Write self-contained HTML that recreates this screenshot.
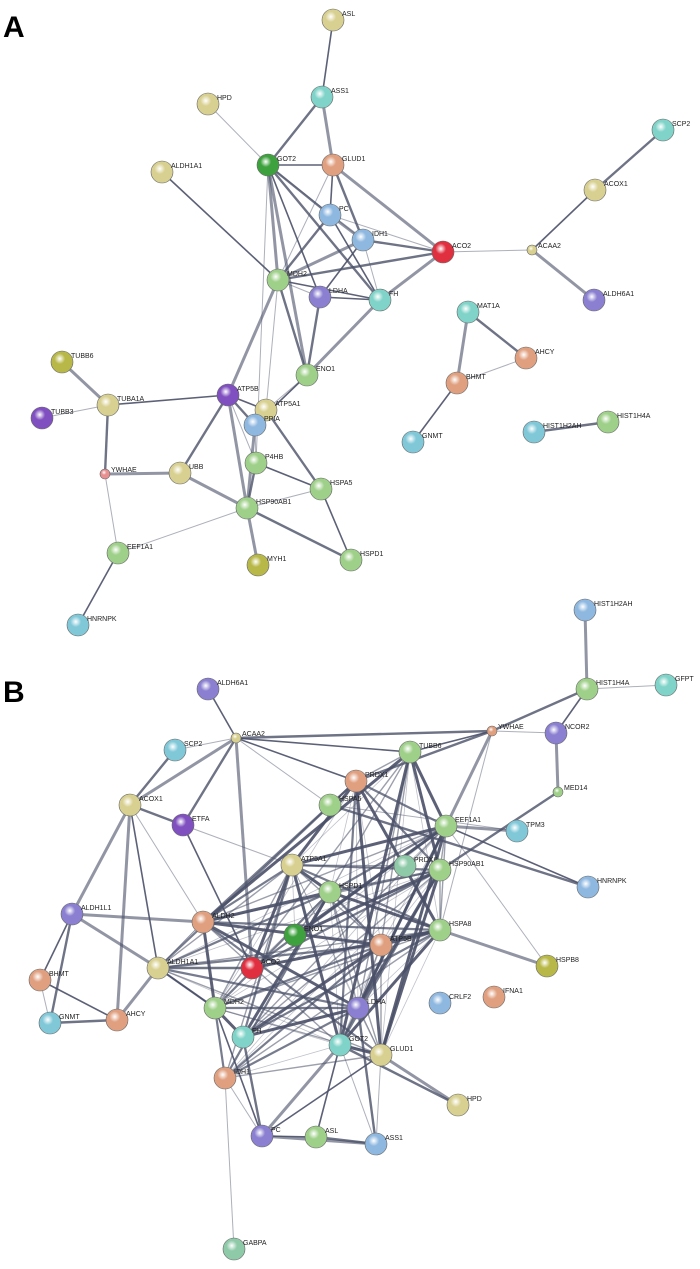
<!DOCTYPE html>
<html><head><meta charset="utf-8">
<style>
html,body{margin:0;padding:0;background:#fff;}
svg{display:block;}
text{font-family:"Liberation Sans",Arial,sans-serif;}
.l{font-size:7px;fill:#222;}
.big{font-size:30px;font-weight:bold;fill:#000;}
</style></head>
<body>
<svg id="s" width="700" height="1269" viewBox="0 0 700 1269" xmlns="http://www.w3.org/2000/svg">
<defs></defs>
<text class="big" x="3" y="37">A</text>
<text class="big" x="3" y="702">B</text>
<g id="edges"></g><g id="nodes"></g>
</svg>
<script>
var C={g:"#9fd08a",dg:"#3da13d",t:"#7fd3c8",b:"#8fb8e0",p:"#8a7fd0",r:"#e03040",o:"#e0a080",y:"#d8d090",k:"#b8b848",s:"#8ec9a8",pu:"#8050c0",cy:"#80c8d8"};
var A={ASL:[333,20,"y"],ASS1:[322,97,"t"],HPD:[208,104,"y"],GOT2:[268,165,"dg"],GLUD1:[333,165,"o"],ALDH1A1:[162,172,"y"],PC:[330,215,"b"],IDH1:[363,240,"b"],ACO2:[443,252,"r"],SCP2:[663,130,"t"],ACOX1:[595,190,"y"],ACAA2:[532,250,"ys"],ALDH6A1:[594,300,"p"],MDH2:[278,280,"g"],LDHA:[320,297,"p"],FH:[380,300,"t"],MAT1A:[468,312,"t"],AHCY:[526,358,"o"],BHMT:[457,383,"o"],GNMT:[413,442,"cy"],HIST1H2AH:[534,432,"cy"],HIST1H4A:[608,422,"g"],ENO1:[307,375,"g"],TUBB6:[62,362,"k"],TUBA1A:[108,405,"y"],TUBB3:[42,418,"pu"],ATP5B:[228,395,"pu"],ATP5A1:[266,410,"y"],PPIA:[255,425,"b"],YWHAE:[105,474,"rs"],UBB:[180,473,"y"],P4HB:[256,463,"g"],HSPA5:[321,489,"g"],HSP90AB1:[247,508,"g"],EEF1A1:[118,553,"g"],MYH1:[258,565,"k"],HSPD1:[351,560,"g"],HNRNPK:[78,625,"cy"]};
var Ae="ASL-ASS1 ASS1-GOT2 ASS1-GLUD1 HPD-GOT2 GOT2-GLUD1 GOT2-PC GOT2-MDH2 GOT2-IDH1 GOT2-LDHA GOT2-FH GOT2-ENO1 GOT2-P4HB GLUD1-PC GLUD1-IDH1 GLUD1-ACO2 GLUD1-MDH2 ALDH1A1-MDH2 PC-MDH2 PC-IDH1 PC-ACO2 PC-FH IDH1-ACO2 IDH1-MDH2 IDH1-FH IDH1-LDHA ACO2-MDH2 ACO2-FH ACO2-ACAA2 ACAA2-ACOX1 ACOX1-SCP2 ACAA2-ALDH6A1 MDH2-LDHA MDH2-FH MDH2-ENO1 MDH2-ATP5B MDH2-ATP5A1 LDHA-FH LDHA-ENO1 FH-ENO1 ENO1-ATP5A1 ENO1-PPIA MAT1A-AHCY MAT1A-BHMT AHCY-BHMT BHMT-GNMT HIST1H2AH-HIST1H4A TUBB6-TUBA1A TUBB3-TUBA1A TUBA1A-ATP5B TUBA1A-YWHAE YWHAE-UBB YWHAE-EEF1A1 ATP5B-ATP5A1 ATP5B-PPIA ATP5B-HSP90AB1 ATP5B-P4HB ATP5A1-PPIA ATP5A1-HSPA5 PPIA-HSP90AB1 PPIA-P4HB P4HB-HSPA5 P4HB-HSP90AB1 UBB-HSP90AB1 HSPA5-HSP90AB1 HSPA5-HSPD1 HSP90AB1-HSPD1 HSP90AB1-MYH1 HSP90AB1-EEF1A1 EEF1A1-HNRNPK ATP5B-UBB";
var B={HIST1H2AH:[585,610,"b"],HIST1H4A:[587,689,"g"],GFPT:[666,685,"t"],ALDH6A1:[208,689,"p"],NCOR2:[556,733,"p"],YWHAE:[492,731,"os"],SCP2:[175,750,"cy"],ACAA2:[236,738,"ys"],TUBB6:[410,752,"g"],PRDX1:[356,781,"o"],MED14:[558,792,"gs"],ACOX1:[130,805,"y"],HSPA5:[330,805,"g"],ETFA:[183,825,"pu"],EEF1A1:[446,826,"g"],TPM3:[517,831,"cy"],ATP5A1:[292,865,"y"],PRDX6:[405,866,"s"],HSP90AB1:[440,870,"g"],HSPD1:[330,892,"g"],HNRNPK:[588,887,"b"],ALDH1L1:[72,914,"p"],ALDH2:[203,922,"o"],ENO1:[295,935,"dg"],ATP5B:[381,945,"o"],HSPA8:[440,930,"g"],HSPB8:[547,966,"k"],BHMT:[40,980,"o"],ALDH1A1:[158,968,"y"],ACO2:[252,968,"r"],LDHA:[358,1008,"p"],CRLF2:[440,1003,"b"],IFNA1:[494,997,"o"],GNMT:[50,1023,"cy"],AHCY:[117,1020,"o"],MDH2:[215,1008,"g"],FH:[243,1037,"t"],GOT2:[340,1045,"t"],GLUD1:[381,1055,"y"],IDH1:[225,1078,"o"],HPD:[458,1105,"y"],PC:[262,1136,"p"],ASL:[316,1137,"g"],ASS1:[376,1144,"b"],GABPA:[234,1249,"s"]};
var core=["HSPA5","EEF1A1","ATP5A1","PRDX6","HSP90AB1","HSPD1","ENO1","ATP5B","HSPA8","ACO2","LDHA","MDH2","FH","GOT2","GLUD1","IDH1","ALDH2","PRDX1","TUBB6","ALDH1A1"];
var Be="HIST1H2AH-HIST1H4A HIST1H4A-GFPT HIST1H4A-NCOR2 HIST1H4A-YWHAE NCOR2-MED14 NCOR2-YWHAE ALDH6A1-ACAA2 SCP2-ACOX1 ACAA2-ACOX1 ACAA2-SCP2 ACAA2-PRDX1 ACAA2-ETFA ACAA2-ACO2 ACAA2-HSPA5 ACAA2-TUBB6 ACAA2-YWHAE ACOX1-ALDH1L1 ACOX1-ALDH2 ACOX1-ALDH1A1 ACOX1-ETFA ACOX1-AHCY ETFA-ATP5A1 ETFA-ACO2 YWHAE-PRDX1 YWHAE-EEF1A1 YWHAE-HSPA8 YWHAE-TUBB6 MED14-HSP90AB1 TPM3-EEF1A1 TPM3-HSPA5 HNRNPK-EEF1A1 HNRNPK-HSPA5 HSPB8-HSPA8 HSPB8-EEF1A1 ALDH1L1-BHMT ALDH1L1-GNMT ALDH1L1-ALDH2 BHMT-GNMT BHMT-AHCY AHCY-GNMT AHCY-ALDH1A1 ALDH1A1-ALDH2 ALDH1A1-MDH2 ALDH1A1-ACO2 ALDH1L1-ALDH1A1 IDH1-GABPA PC-ASL ASL-ASS1 PC-ASS1 ASS1-GOT2 ASL-GOT2 HPD-GOT2 HPD-GLUD1 GLUD1-ASS1 PC-MDH2 PC-FH PC-GOT2 PC-IDH1 PC-GLUD1 ASS1-LDHA";
var Ab=Ae.split(" ");
for(var i=0;i<core.length;i++)for(var j=i+1;j<core.length;j++){ if((i*7+j*3)%4!==0) Ab.push("X")}
var E=document.getElementById("edges"),N=document.getElementById("nodes"),ns="http://www.w3.org/2000/svg";
function line(a,b,w,o){var l=document.createElementNS(ns,"line");l.setAttribute("x1",a[0]);l.setAttribute("y1",a[1]);l.setAttribute("x2",b[0]);l.setAttribute("y2",b[1]);l.setAttribute("stroke","#4a5068");l.setAttribute("stroke-width",w);l.setAttribute("stroke-opacity",o);E.appendChild(l);}
var k=0;
function edges(M,str){str.split(" ").forEach(function(e){var p=e.split("-");if(M[p[0]]&&M[p[1]]){k++;line(M[p[0]],M[p[1]],[1,1.6,2.4,3][k%4],[0.45,0.6,0.8,0.9][(k*3)%4]);}});}
edges(A,Ae);edges(B,Be);
for(var i=0;i<core.length;i++)for(var j=i+1;j<core.length;j++){if((i*7+j*3)%3!==0){k++;line(B[core[i]],B[core[j]],[0.8,1.4,2.2,3][k%4],[0.35,0.55,0.75,0.9][(k*5)%4]);}}
var gid=0;
function nodes(M){for(var n in M){var v=M[n],c=v[2],small=c.length==2&&c[1]=="s"&&c!="s";var col=C[small?c[0]=="y"?"y":c[0]=="r"?"o":c[0]=="o"?"o":"g":c];if(c=="rs")col="#e89090";var r=small?5:11;
var g=document.createElementNS(ns,"radialGradient");g.id="g"+(++gid);g.setAttribute("cx","0.4");g.setAttribute("cy","0.35");g.setAttribute("r","0.7");g.innerHTML='<stop offset="0" stop-color="#fff"/><stop offset="0.35" stop-color="'+col+'"/><stop offset="1" stop-color="'+col+'" stop-opacity="1"/>';document.querySelector("defs").appendChild(g);
var ci=document.createElementNS(ns,"circle");ci.setAttribute("cx",v[0]);ci.setAttribute("cy",v[1]);ci.setAttribute("r",r);ci.setAttribute("fill","url(#g"+gid+")");ci.setAttribute("stroke","#666");ci.setAttribute("stroke-width","0.6");N.appendChild(ci);
var t=document.createElementNS(ns,"text");t.setAttribute("class","l");t.setAttribute("x",v[0]+(small?6:9));t.setAttribute("y",v[1]-(small?2:4));t.textContent=n;N.appendChild(t);}}
nodes(A);nodes(B);
</script>
</body></html>
